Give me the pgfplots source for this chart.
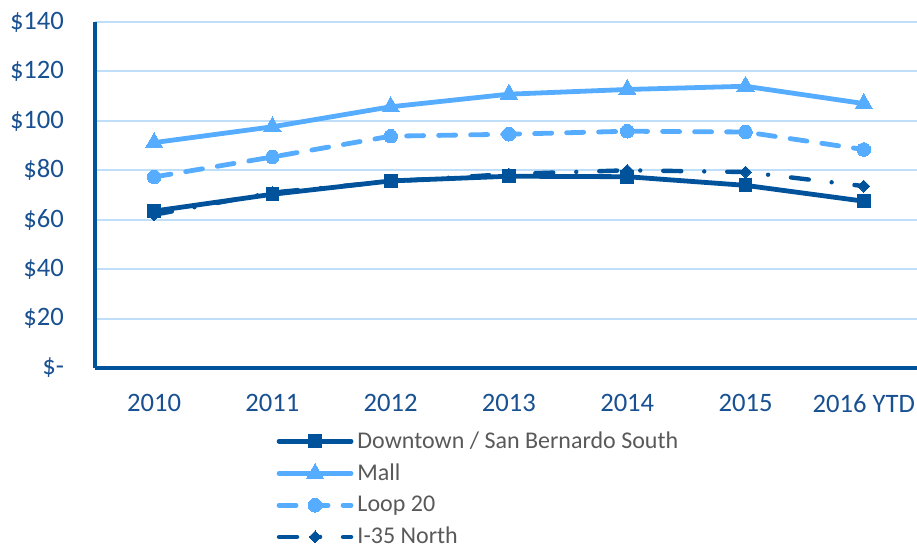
\documentclass[border=0pt]{standalone}
\usepackage{pgfplots}
\pgfplotsset{compat=1.18}
\usepackage{fontspec}
\setmainfont{Carlito}
\definecolor{dkblue}{RGB}{0,82,155}
\definecolor{ltblue}{RGB}{86,172,255}
\definecolor{gridblue}{RGB}{190,222,250}
\definecolor{lblblue}{RGB}{24,80,145}
\definecolor{legtxt}{RGB}{89,89,89}
\begin{document}
\begin{tikzpicture}
\path[use as bounding box] (0,0) rectangle (458.5pt,274pt);
\begin{axis}[
  at={(47.5pt,90pt)}, anchor=south west,
  scale only axis, width=411pt, height=173pt,
  xmin=-0.5, xmax=6.45, ymin=0, ymax=140,
  xtick={0,1,2,3,4,5,6},
  xticklabels={2010,2011,2012,2013,2014,2015,2016 YTD},
  ytick={0,20,40,60,80,100,120,140},
  yticklabels={\$-,\$20,\$40,\$60,\$80,\$100,\$120,\$140},
  tick style={draw=none},
  axis x line*=bottom, axis y line*=left,
  axis line style={dkblue, line width=2pt, -},
  ymajorgrids, grid style={gridblue, line width=1pt},
  ticklabel style={font=\fontsize{13.3pt}{15pt}\selectfont, text=lblblue},
  yticklabel style={xshift=-12pt},
  xticklabel style={yshift=-9.5pt},
  clip=false,
  legend style={at={(0.2205,-0.1705)}, anchor=north west, draw=none, fill=none,
    font=\fontsize{12pt}{14pt}\selectfont, text=legtxt, row sep=2.3pt,
    inner sep=0pt, nodes={inner sep=2pt}},
  legend cell align=left,
  legend image code/.code={\draw[mark repeat=2,mark phase=2] plot coordinates {(0pt,0pt)(18pt,0pt)(36pt,0pt)};},
]
\addplot[dkblue, line width=2.4pt, line cap=round, line join=round, mark=square*, mark size=3.2pt, mark options={solid, line width=0pt}]
  coordinates {(0,63.5)(1,70.3)(2,75.7)(3,77.6)(4,77.4)(5,73.9)(6,67.5)};
\addlegendentry{Downtown / San Bernardo South}
\addplot[ltblue, line width=2.4pt, line cap=round, line join=round, mark=triangle*, mark size=5pt, mark options={solid, line width=0pt}]
  coordinates {(0,91.2)(1,97.6)(2,105.7)(3,110.8)(4,112.7)(5,114.0)(6,107.0)};
\addlegendentry{Mall}
\addplot[ltblue, line width=2.4pt, line cap=round, line join=round, dash pattern=on 8.5pt off 7.5pt, mark=*, mark size=3.4pt, mark options={solid, line width=0pt}]
  coordinates {(0,77.3)(1,85.4)(2,93.8)(3,94.6)(4,95.8)(5,95.5)(6,88.4)};
\addlegendentry{Loop 20}
\addplot[dkblue, line width=2.2pt, line cap=round, line join=round, dash pattern=on 9pt off 11.5pt on 0pt off 11.5pt, mark=square*, mark size=2.1pt, mark options={solid, rotate=45, line width=0pt}]
  coordinates {(0,62.0)(1,71.0)(2,75.5)(3,78.5)(4,80.0)(5,79.3)(6,73.6)};
\addlegendentry{I-35 North}
\end{axis}
\end{tikzpicture}
\end{document}
